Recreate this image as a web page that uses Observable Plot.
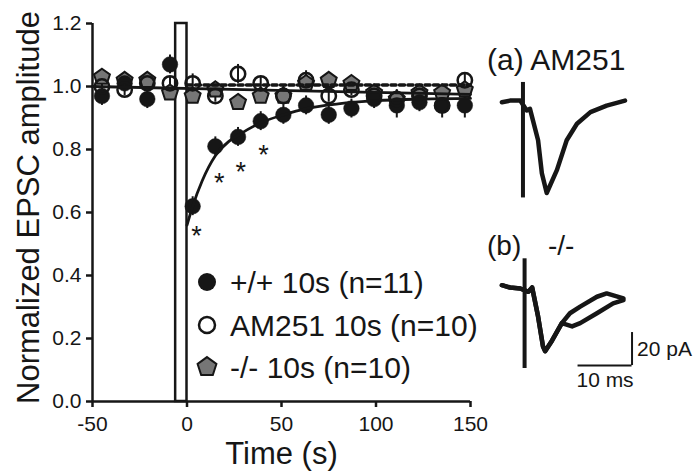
<!DOCTYPE html>
<html>
<head>
<meta charset="utf-8">
<script src="https://cdn.jsdelivr.net/npm/d3@7"></script>
<script src="https://cdn.jsdelivr.net/npm/@observablehq/plot@0.6"></script>
<style>
  html, body { margin: 0; padding: 0; background: #fff; }
  #wrap { position: relative; width: 696px; height: 474px; overflow: hidden;
          font-family: "Liberation Sans", Arial, sans-serif; color: #161616; }
  .abs { position: absolute; white-space: nowrap; }
  .lab { font-size: 30px; line-height: 30px; }
</style>
</head>
<body>
<div id="wrap"></div>
<script>
// ---------------- data ----------------
const times   = [-45, -33, -21, -9, 3, 15, 27, 39, 51, 63, 75, 87, 99, 111, 123, 135, 147];
const wt      = [0.97, 1.01, 0.96, 1.07, 0.62, 0.81, 0.84, 0.89, 0.91, 0.94, 0.91, 0.93, 0.96, 0.94, 0.95, 0.94, 0.94];
const wtErr   = [0.03, 0.02, 0.03, 0.03, 0.03, 0.03, 0.03, 0.03, 0.03, 0.03, 0.03, 0.03, 0.03, 0.04, 0.03, 0.04, 0.04];
const am251   = [1.00, 0.99, 1.01, 1.01, 1.01, 0.97, 1.04, 1.01, 0.97, 1.02, 0.97, 0.99, 0.97, 0.96, 0.97, 0.94, 1.02];
const am251Err= [0.02, 0.02, 0.02, 0.02, 0.03, 0.02, 0.03, 0.02, 0.02, 0.03, 0.02, 0.02, 0.02, 0.02, 0.02, 0.02, 0.02];
const ko      = [1.03, 1.02, 1.02, 0.98, 0.97, 0.99, 0.95, 0.97, 0.97, 1.01, 1.02, 1.01, 0.98, 0.96, 0.98, 0.98, 0.99];
const koErr   = [0.02, 0.02, 0.02, 0.02, 0.02, 0.02, 0.02, 0.02, 0.03, 0.02, 0.02, 0.02, 0.02, 0.03, 0.02, 0.02, 0.02];

// fitted lines
const linFitT = [-50, 150];
const linFitV = [1.0, 0.975];
const flatFitT = [0, 150];
const flatFitV = [1.005, 1.005];
const expFitT = [0, 3, 8, 15, 22, 27, 39, 51, 63, 80, 100, 125, 150];
const expFitV = [0.56, 0.62, 0.70, 0.78, 0.825, 0.845, 0.885, 0.91, 0.93, 0.945, 0.955, 0.96, 0.962];

// significance marks
const starT = [5, 17, 28.5, 40.5];
const starV = [0.548, 0.714, 0.749, 0.803];

const stimWindow = [-6, 0];
const xTicks = [-50, 0, 50, 100, 150];
const yTicks = [0, 0.2, 0.4, 0.6, 0.8, 1.0, 1.2];
const seriesLabels = ["+/+ 10s (n=11)", "AM251 10s (n=10)", "-/- 10s (n=10)"];

// example EPSC traces (ms, pA)
const traceA_t  = [0, 1.5, 3.4, 4.6, 5.2, 6.7, 7.4, 8.3, 10.2, 12.0, 13.9, 16.4, 19.4, 22.8];
const traceA_pA = [-1, 0, 0, -6, -5, -24, -44, -56, -42, -24, -14, -7, -3, 0];
const artifactA = {t: 3.9, top: 11, bottom: -59};
const traceB1_t  = [0, 1.5, 3.4, 4.9, 5.6, 6.7, 7.6, 8.0, 9.3, 11.1, 12.6, 14.5, 17.6, 19.4, 22.5];
const traceB1_pA = [2, 0.6, 0, -2, 0.6, -17, -35, -38, -31.5, -21, -15, -11, -5, -3, -6];
const traceB2_t  = [0, 1.5, 3.4, 4.9, 5.6, 6.7, 7.6, 8.0, 9.3, 11.1, 13.0, 14.5, 17.6, 20.6, 22.5];
const traceB2_pA = [2, 0.6, 0, -2, 0.6, -17, -35, -38, -31.5, -21, -23, -21, -15, -9, -7];
const artifactB = {t: 4.2, top: 18, bottom: -48.5};
const scaleBar = {ms: 10, pA: 20};

// ---------------- helpers ----------------
const INK = "#161616";
const GRAY = "#767676";
const pentagon = {
  draw(context, size) {
    const R = Math.sqrt(size / Math.PI) * 1.1;
    for (let i = 0; i < 5; i++) {
      const a = -Math.PI / 2 + i * 2 * Math.PI / 5;
      const x = R * Math.cos(a), y = R * Math.sin(a);
      if (i === 0) context.moveTo(x, y); else context.lineTo(x, y);
    }
    context.closePath();
  }
};
const rows = (vals, errs) => times.map((t, i) => ({t, v: vals[i], e: errs[i]}));
const wtRows = rows(wt, wtErr), amRows = rows(am251, am251Err), koRows = rows(ko, koErr);
const zip = (a, b) => a.map((x, i) => ({x, y: b[i]}));

const wrap = document.getElementById("wrap");

// ---------------- main chart ----------------
const main = Plot.plot({
  width: 696, height: 474,
  marginLeft: 92, marginRight: 226, marginTop: 23, marginBottom: 73,
  style: {fontFamily: '"Liberation Sans", Arial, sans-serif', color: INK, background: "transparent", overflow: "visible"},
  x: {domain: [xTicks[0], xTicks[xTicks.length - 1]]},
  y: {domain: [yTicks[0], yTicks[yTicks.length - 1]]},
  marks: [
    Plot.axisX({ticks: xTicks, tickSize: 6, tickPadding: 9, fontSize: 21, strokeWidth: 2.5, label: null, tickFormat: d => String(d)}),
    Plot.axisY({ticks: yTicks, tickSize: 6, tickPadding: 5, fontSize: 21, strokeWidth: 2.5, label: null, tickFormat: d3.format(".1f")}),
    Plot.ruleX([xTicks[0]], {y1: yTicks[0], y2: yTicks[yTicks.length - 1], stroke: INK, strokeWidth: 2.5}),
    Plot.ruleY([yTicks[0]], {x1: xTicks[0], x2: xTicks[xTicks.length - 1], stroke: INK, strokeWidth: 2.5}),
    Plot.rect([stimWindow], {x1: d => d[0], x2: d => d[1], y1: yTicks[0], y2: yTicks[yTicks.length - 1], fill: "white", stroke: INK, strokeWidth: 2.5}),
    // error bars
    Plot.ruleX(koRows, {x: "t", y1: d => d.v - d.e, y2: d => d.v + d.e, stroke: INK, strokeWidth: 2}),
    Plot.ruleX(wtRows, {x: "t", y1: d => d.v - d.e, y2: d => d.v + d.e, stroke: INK, strokeWidth: 2}),
    Plot.ruleX(amRows, {x: "t", y1: d => d.v - d.e, y2: d => d.v + d.e, stroke: INK, strokeWidth: 2}),
    // markers
    Plot.dot(koRows, {x: "t", y: "v", r: 7.6, symbol: pentagon, fill: GRAY, stroke: INK, strokeWidth: 2}),
    Plot.dot(wtRows, {x: "t", y: "v", r: 7.8, fill: INK, stroke: INK, strokeWidth: 0.5}),
    Plot.dot(amRows, {x: "t", y: "v", r: 7.2, fill: "none", stroke: INK, strokeWidth: 2.5}),
    // fits
    Plot.line(zip(linFitT, linFitV), {x: "x", y: "y", stroke: INK, strokeWidth: 2.8}),
    Plot.line(zip(flatFitT, flatFitV), {x: "x", y: "y", stroke: INK, strokeWidth: 3.5, strokeDasharray: "5,3.5"}),
    Plot.line(zip(expFitT, expFitV), {x: "x", y: "y", stroke: INK, strokeWidth: 2.8, curve: "monotone-x"}),
    // significance
    Plot.text(starT.map((t, i) => ({t, v: starV[i]})), {x: "t", y: "v", text: () => "*", fontSize: 27, dy: 7, fill: INK}),
    // axis titles
    Plot.text(["Normalized EPSC amplitude"], {frameAnchor: "left", textAnchor: "middle", lineAnchor: "middle", dx: -63, dy: -5, rotate: -90, fontSize: 31, fill: INK}),
    Plot.text(["Time (s)"], {frameAnchor: "bottom", textAnchor: "middle", lineAnchor: "middle", dy: 53, fontSize: 31, fill: INK})
  ]
});
main.style.position = "absolute";
main.style.left = "0px";
main.style.top = "0px";
wrap.appendChild(main);

// ---------------- legend ----------------
function legendSymbol(kind) {
  const ns = "http://www.w3.org/2000/svg";
  const svg = document.createElementNS(ns, "svg");
  svg.setAttribute("width", 24); svg.setAttribute("height", 24);
  svg.setAttribute("viewBox", "-12 -12 24 24");
  let el;
  if (kind === 2) {
    el = document.createElementNS(ns, "path");
    const p = d3.path(); pentagon.draw(p, Math.PI * 9 * 9);
    el.setAttribute("d", p.toString());
    el.setAttribute("fill", GRAY); el.setAttribute("stroke", INK); el.setAttribute("stroke-width", 2);
  } else {
    el = document.createElementNS(ns, "circle");
    el.setAttribute("r", kind === 0 ? 9 : 8);
    el.setAttribute("fill", kind === 0 ? INK : "none");
    el.setAttribute("stroke", INK); el.setAttribute("stroke-width", kind === 0 ? 0 : 2.5);
  }
  svg.appendChild(el);
  return svg;
}
const legendBaselines = [293, 336, 378];
seriesLabels.forEach((label, i) => {
  const sym = legendSymbol(i);
  sym.classList.add("abs");
  sym.style.left = (207 - 12) + "px";
  sym.style.top = (legendBaselines[i] - 10.7 - 12) + "px";
  wrap.appendChild(sym);
  const t = document.createElement("div");
  t.className = "abs lab";
  t.textContent = label;
  t.style.left = "230px";
  t.style.top = (legendBaselines[i] - 25.4) + "px";
  wrap.appendChild(t);
});

// ---------------- panel labels ----------------
function addLabel(text, left, baseline, size) {
  const d = document.createElement("div");
  d.className = "abs";
  d.style.fontSize = size + "px";
  d.style.lineHeight = size + "px";
  d.textContent = text;
  d.style.left = left + "px";
  d.style.top = (baseline - 0.847 * size) + "px";
  wrap.appendChild(d);
}
addLabel("(a) AM251", 487, 70, 30);
addLabel("(b)", 487, 256, 28);
addLabel("-/-", 548, 256, 28);

// ---------------- traces ----------------
const traceStyle = {stroke: INK, strokeWidth: 4.5, strokeLinejoin: "round", strokeLinecap: "round"};
const pxPerMs = 5.4, pxPerPA = 1.65;

const xDomA = [-1, 25], yDomA = [-62, 14];
const plotA = Plot.plot({
  width: (xDomA[1] - xDomA[0]) * pxPerMs, height: (yDomA[1] - yDomA[0]) * pxPerPA,
  margin: 0, style: {background: "transparent", overflow: "visible"},
  x: {domain: xDomA, axis: null}, y: {domain: yDomA, axis: null},
  marks: [
    Plot.line(zip(traceA_t, traceA_pA), {x: "x", y: "y", ...traceStyle}),
    Plot.ruleX([artifactA], {x: "t", y1: "bottom", y2: "top", stroke: INK, strokeWidth: 4})
  ]
});
plotA.style.position = "absolute";
plotA.style.left = (501.7 - (0 - xDomA[0]) * pxPerMs) + "px";
plotA.style.top = (100 - yDomA[1] * pxPerPA) + "px";
wrap.appendChild(plotA);

const xDomB = [-1, 36], yDomB = [-70, 20];
const sbX = 24.1, sbY = -46.7;
const plotB = Plot.plot({
  width: (xDomB[1] - xDomB[0]) * pxPerMs, height: (yDomB[1] - yDomB[0]) * pxPerPA,
  margin: 0, style: {background: "transparent", overflow: "visible", fontFamily: '"Liberation Sans", Arial, sans-serif', color: INK},
  x: {domain: xDomB, axis: null}, y: {domain: yDomB, axis: null},
  marks: [
    Plot.line(zip(traceB2_t, traceB2_pA), {x: "x", y: "y", ...traceStyle}),
    Plot.line(zip(traceB1_t, traceB1_pA), {x: "x", y: "y", ...traceStyle}),
    Plot.ruleX([artifactB], {x: "t", y1: "bottom", y2: "top", stroke: INK, strokeWidth: 4}),
    // scale bar
    Plot.ruleY([sbY], {x1: sbX - scaleBar.ms, x2: sbX, stroke: INK, strokeWidth: 2}),
    Plot.ruleX([sbX], {y1: sbY, y2: sbY + scaleBar.pA, stroke: INK, strokeWidth: 2}),
    Plot.text([`${scaleBar.pA} pA`], {x: sbX, y: sbY + scaleBar.pA / 2, textAnchor: "start", dx: 5, fontSize: 21, fill: INK}),
    Plot.text([`${scaleBar.ms} ms`], {x: sbX - scaleBar.ms / 2, y: sbY, dy: 15, fontSize: 21, fill: INK})
  ]
});
plotB.style.position = "absolute";
plotB.style.left = (501.7 - (0 - xDomB[0]) * pxPerMs) + "px";
plotB.style.top = (288 - yDomB[1] * pxPerPA) + "px";
wrap.appendChild(plotB);
</script>
</body>
</html>
